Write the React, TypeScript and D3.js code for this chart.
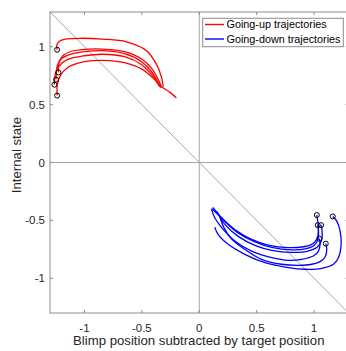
import React from 'react';
import * as d3 from 'd3';

// [x, y] samples: x = blimp - target, y = internal state
const up1: [number, number][] = [[-1.238, 0.974], [-1.24, 1.017], [-1.218, 1.047], [-1.166, 1.065], [-1.044, 1.073], [-0.843, 1.066], [-0.633, 1.043], [-0.459, 0.966], [-0.371, 0.845], [-0.328, 0.733], [-0.314, 0.655]];
const up2: [number, number][] = [[-1.227, 0.778], [-1.218, 0.871], [-1.183, 0.927], [-1.114, 0.961], [-1.0, 0.978], [-0.843, 0.98], [-0.651, 0.957], [-0.493, 0.888], [-0.406, 0.802], [-0.345, 0.69], [-0.328, 0.647]];
const up3: [number, number][] = [[-1.247, 0.716], [-1.24, 0.819], [-1.21, 0.888], [-1.131, 0.931], [-1.0, 0.957], [-0.843, 0.966], [-0.651, 0.94], [-0.502, 0.871], [-0.415, 0.784], [-0.354, 0.681], [-0.336, 0.647]];
const up4: [number, number][] = [[-1.262, 0.672], [-1.253, 0.767], [-1.218, 0.836], [-1.148, 0.888], [-1.0, 0.922], [-0.843, 0.935], [-0.651, 0.914], [-0.502, 0.845], [-0.415, 0.759], [-0.345, 0.655]];
const up5: [number, number][] = [[-1.238, 0.578], [-1.236, 0.672], [-1.21, 0.75], [-1.148, 0.819], [-1.0, 0.871], [-0.843, 0.882], [-0.651, 0.862], [-0.493, 0.802], [-0.389, 0.716], [-0.328, 0.655], [-0.258, 0.608], [-0.199, 0.558]];

const down1: [number, number][] = [[1.163, -0.466], [1.198, -0.506], [1.227, -0.592], [1.236, -0.707], [1.212, -0.822], [1.169, -0.879], [1.067, -0.914], [0.921, -0.922], [0.776, -0.908], [0.572, -0.865], [0.397, -0.793], [0.252, -0.707], [0.164, -0.621], [0.135, -0.558]];
const down2: [number, number][] = [[1.102, -0.701], [1.111, -0.75], [1.096, -0.816], [1.052, -0.856], [0.98, -0.879], [0.863, -0.888], [0.718, -0.879], [0.543, -0.836], [0.397, -0.75], [0.284, -0.664], [0.214, -0.56], [0.179, -0.466]];
const down3: [number, number][] = [[1.046, -0.658], [1.052, -0.707], [1.038, -0.765], [0.994, -0.808], [0.893, -0.836], [0.776, -0.845], [0.631, -0.822], [0.456, -0.765], [0.31, -0.678], [0.208, -0.578], [0.135, -0.477], [0.107, -0.405]];
const down4: [number, number][] = [[1.032, -0.541], [1.039, -0.595], [1.035, -0.664], [1.0, -0.716], [0.921, -0.746], [0.805, -0.754], [0.631, -0.733], [0.485, -0.685], [0.339, -0.608], [0.223, -0.509], [0.118, -0.388]];
const down5: [number, number][] = [[1.061, -0.541], [1.07, -0.595], [1.066, -0.672], [1.026, -0.733], [0.939, -0.767], [0.805, -0.776], [0.631, -0.759], [0.485, -0.716], [0.339, -0.638], [0.223, -0.534], [0.153, -0.422]];
const down6: [number, number][] = [[1.024, -0.454], [1.032, -0.506], [1.038, -0.592], [1.024, -0.664], [0.98, -0.707], [0.893, -0.73], [0.776, -0.735], [0.601, -0.713], [0.456, -0.664], [0.31, -0.578], [0.194, -0.477], [0.107, -0.397]];

const upTrajectories = [up1, up2, up3, up4, up5];
const downTrajectories = [down1, down2, down3, down4, down5, down6];

const ticks = [-1, -0.5, 0, 0.5, 1];
const tickLabels = ['-1', '-0.5', '0', '0.5', '1'];
const lim: [number, number] = [-1.3, 1.3];
const legendLabels = ['Going-up trajectories', 'Going-down trajectories'];

const W = 346, H = 351;
const left = 50, right = 348.5, top = 12, bottom = 313;
const font = 'Liberation Sans, Arial, sans-serif';
const axisColor = '#8c8c8c';
const refColor = '#a8a8a8';

export default function App() {
  const x = d3.scaleLinear().domain(lim).range([left, right]);
  const y = d3.scaleLinear().domain(lim).range([bottom, top]);
  const line = d3.line<[number, number]>()
    .x(d => x(d[0]))
    .y(d => y(d[1]))
    .curve(d3.curveCatmullRom);

  return (
    <svg width={W} height={H} style={{ position: 'absolute', left: 0, top: 0, fontFamily: font }}>
      <rect x={0} y={0} width={W} height={H} fill="#fff" />
      {/* reference lines */}
      <line x1={x(0)} x2={x(0)} y1={y(lim[0])} y2={y(lim[1])} stroke={refColor} />
      <line x1={x(lim[0])} x2={x(lim[1])} y1={y(0)} y2={y(0)} stroke={refColor} />
      <line x1={x(lim[0])} y1={y(lim[1])} x2={x(lim[1])} y2={y(lim[0])} stroke={refColor} />

      {upTrajectories.map((d, i) => (
        <path key={'u' + i} d={line(d) || ''} fill="none" stroke="#ff0000" strokeWidth={1.3} />
      ))}
      {downTrajectories.map((d, i) => (
        <path key={'d' + i} d={line(d) || ''} fill="none" stroke="#0000ff" strokeWidth={1.3} />
      ))}
      {[...upTrajectories, ...downTrajectories].map((d, i) => (
        <circle key={'c' + i} cx={x(d[0][0])} cy={y(d[0][1])} r={2.5} fill="none" stroke="#000" strokeWidth={1} />
      ))}

      {/* box */}
      <rect x={left} y={top} width={right - left} height={bottom - top} fill="none" stroke={axisColor} />
      {ticks.map(t => (
        <g key={'t' + t} stroke={axisColor}>
          <line x1={x(t)} x2={x(t)} y1={bottom} y2={bottom - 3} />
          <line x1={x(t)} x2={x(t)} y1={top} y2={top + 3} />
          <line x1={left} x2={left + 3} y1={y(t)} y2={y(t)} />
          <line x1={right} x2={right - 3} y1={y(t)} y2={y(t)} />
        </g>
      ))}
      {ticks.map((t, i) => (
        <text key={'xl' + t} x={x(t)} y={bottom + 18.5} textAnchor="middle" fontSize={11.5} fill="#262626">{tickLabels[i]}</text>
      ))}
      {ticks.map((t, i) => (
        <text key={'yl' + t} x={left - 5} y={y(t)} dy="0.35em" textAnchor="end" fontSize={11.5} fill="#262626">{tickLabels[i]}</text>
      ))}
      <text x={(left + right) / 2 - 0.5} y={344.5} textAnchor="middle" fontSize={13.2} fill="#262626">
        Blimp position subtracted by target position
      </text>
      <text transform="translate(20.5,155) rotate(-90)" textAnchor="middle" fontSize={13.2} fill="#262626">
        Internal state
      </text>

      {/* legend */}
      <rect x={202.7} y={18.3} width={140.6} height={28.4} fill="#fff" stroke={axisColor} />
      {legendLabels.map((lab, i) => (
        <g key={lab}>
          <line x1={205} x2={224} y1={24.5 + i * 14.5} y2={24.5 + i * 14.5} stroke={i === 0 ? '#ff0000' : '#0000ff'} strokeWidth={1.4} />
          <text x={226.5} y={24.5 + i * 14.5} dy="0.36em" fontSize={10.8} fill="#000">{lab}</text>
        </g>
      ))}
    </svg>
  );
}
